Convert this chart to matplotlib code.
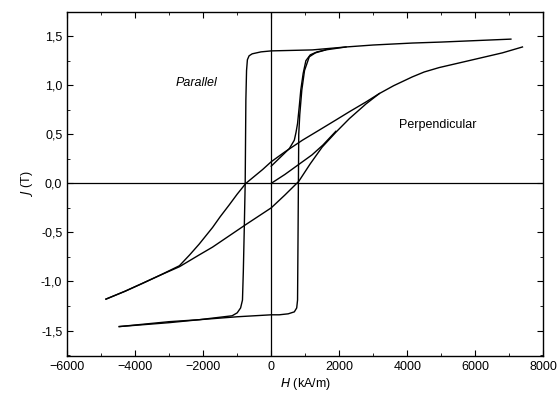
import matplotlib.pyplot as plt
from matplotlib.ticker import MultipleLocator

plt.rcParams['font.family'] = ['Liberation Sans', 'DejaVu Sans']

# parallel loop (square), H in kA/m, J in T
par_desc_H = [7050, 5000, 4150, 3000, 2200, 1210, 0, -300, -560, -650, -700, -725,
              -745, -765, -795, -820, -845, -900, -1000, -1150, -2120, -3000, -4470]
par_desc_J = [1.47, 1.44, 1.43, 1.41, 1.39, 1.36, 1.35, 1.34, 1.32, 1.30, 1.26, 1.15,
              0.85, 0.0, -0.51, -0.9, -1.19, -1.27, -1.32, -1.35, -1.39, -1.41, -1.46]
par_asc_H = [-4470, -3000, -2120, -1000, 0, 235, 500, 680, 750, 775, 790, 800,
             810, 840, 900, 980, 1120, 1300, 1600, 2200]
par_asc_J = [-1.46, -1.42, -1.39, -1.36, -1.34, -1.34, -1.33, -1.31, -1.27, -1.19, -0.5, 0.0,
             0.5, 0.7, 0.95, 1.15, 1.29, 1.33, 1.36, 1.39]
par_virgin_H = [0, 535, 680, 730, 775, 830, 870, 940, 1020, 1150, 1350, 1600]
par_virgin_J = [0.175, 0.355, 0.44, 0.52, 0.61, 0.8, 0.95, 1.12, 1.25, 1.31, 1.34, 1.36]

# perpendicular loop (sheared)
perp_desc_H = [7390, 6800, 6120, 5500, 4940, 4500, 4150, 3600, 3180, 2790, 2300, 1900,
               1400, 920, 400, 0, -255, -500, -745, -1000, -1235, -1500, -1725, -2120,
               -2400, -2700, -3290, -3790, -4300, -4860]
perp_desc_J = [1.39, 1.33, 1.275, 1.225, 1.18, 1.135, 1.085, 0.995, 0.915, 0.83, 0.73, 0.645,
               0.54, 0.44, 0.32, 0.22, 0.14, 0.07, 0.0, -0.11, -0.22, -0.34, -0.45, -0.62,
               -0.73, -0.84, -0.94, -1.02, -1.10, -1.18]
perp_asc_H = [-4860, -4300, -3790, -3290, -2700, -2120, -1725, -745, 0, 400, 810,
              1150, 1500, 1900, 2300, 2790, 3180]
perp_asc_J = [-1.18, -1.10, -1.02, -0.94, -0.85, -0.73, -0.65, -0.42, -0.25, -0.12, 0.02,
              0.2, 0.37, 0.52, 0.66, 0.81, 0.915]
perp_virgin_H = [0, 400, 800, 1200, 1520, 1900]
perp_virgin_J = [0.0, 0.09, 0.19, 0.29, 0.39, 0.53]

x_ticks = [-6000, -4000, -2000, 0, 2000, 4000, 6000, 8000]
y_ticks = [-1.5, -1.0, -0.5, 0.0, 0.5, 1.0, 1.5]
y_tick_labels = ['-1,5', '-1,0', '-0,5', '0,0', '0,5', '1,0', '1,5']

fig = plt.figure(figsize=(5.6, 3.98), dpi=100)
ax = fig.add_axes([0.12, 0.1055, 0.85, 0.864])

lw = 1.0
ax.plot(par_desc_H, par_desc_J, color='black', lw=lw)
ax.plot(par_asc_H, par_asc_J, color='black', lw=lw)
ax.plot(par_virgin_H, par_virgin_J, color='black', lw=lw)
ax.plot(perp_desc_H, perp_desc_J, color='black', lw=lw)
ax.plot(perp_asc_H, perp_asc_J, color='black', lw=lw)
ax.plot(perp_virgin_H, perp_virgin_J, color='black', lw=lw)

ax.axhline(0, color='black', lw=0.9)
ax.axvline(0, color='black', lw=0.9)

ax.text(-2210, 1.02, 'Parallel', fontsize=9, ha='center', va='center', style='italic')
ax.text(4890, 0.59, 'Perpendicular', fontsize=9, ha='center', va='center')

ax.set_xlim(-6000, 8000)
ax.set_ylim(-1.76, 1.745)
ax.set_xticks(x_ticks)
ax.set_yticks(y_ticks)
ax.set_yticklabels(y_tick_labels)
ax.xaxis.set_minor_locator(MultipleLocator(1000))
ax.yaxis.set_minor_locator(MultipleLocator(0.25))
ax.tick_params(which='both', direction='in', top=True, right=True, labelsize=9)
ax.tick_params(which='major', length=4)
ax.tick_params(which='minor', length=2.5)
for s in ax.spines.values():
    s.set_linewidth(1.0)

ax.set_xlabel('$\\mathit{H}$ (kA/m)', fontsize=9, labelpad=2)
ax.set_ylabel('$\\mathit{J}$ (T)', fontsize=9, labelpad=4)

fig.savefig('out.png', dpi=100)
